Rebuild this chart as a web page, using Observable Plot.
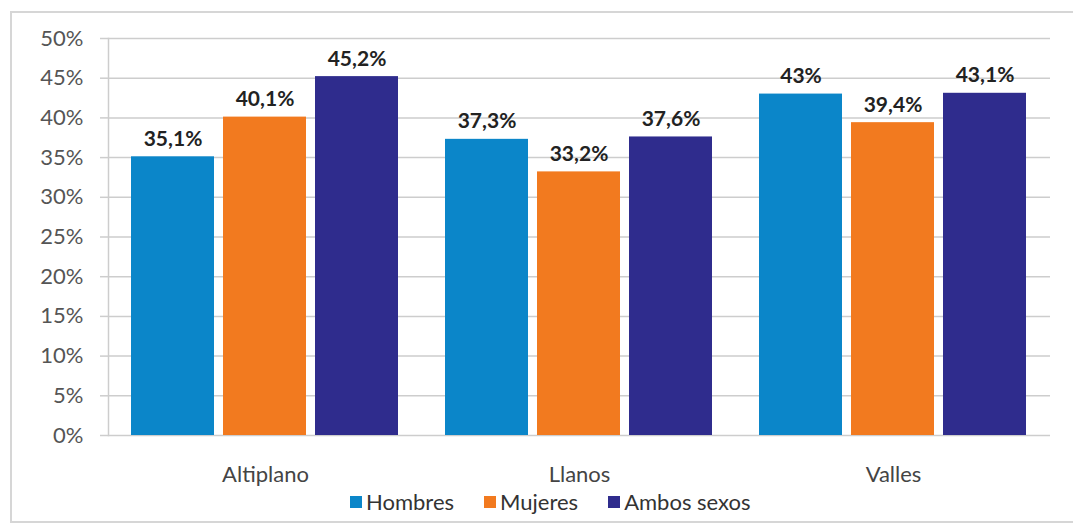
<!DOCTYPE html>
<html>
<head>
<meta charset="utf-8">
<script src="https://cdn.jsdelivr.net/npm/d3@7"></script>
<script src="https://cdn.jsdelivr.net/npm/@observablehq/plot@0.6"></script>
<style>
  html, body { margin: 0; padding: 0; background: #fff; }
  #wrap { position: relative; width: 1073px; height: 526px; overflow: hidden; font-family: Lato, sans-serif; }
  #border { position: absolute; left: 10px; top: 11px; width: 1090px; height: 508px; border: 2px solid #d6d6d6; pointer-events: none; }
  #legend { position: absolute; left: 350px; top: 488px; height: 28px; display: flex; align-items: center; font-size: 22px; color: #333; line-height: 28px; }
  #legend .item { display: flex; align-items: center; margin-right: 30px; }
  #legend .sw { width: 12px; height: 12px; margin-right: 4px; }
</style>
</head>
<body>
<div id="wrap"><div id="border"></div><div id="chart"></div><div id="legend"></div></div>
<script>
const categories = ["Altiplano", "Llanos", "Valles"];
const series = ["Hombres", "Mujeres", "Ambos sexos"];
const hombres = [35.1, 37.3, 43];
const mujeres = [40.1, 33.2, 39.4];
const ambos = [45.2, 37.6, 43.1];
const yTicks = [0, 5, 10, 15, 20, 25, 30, 35, 40, 45, 50];
const colors = ["#0b86c9", "#f27a1f", "#2f2c8d"];

const seriesValues = [hombres, mujeres, ambos];
const data = categories.flatMap((c, i) => series.map((s, j) => ({category: c, series: s, value: seriesValues[j][i]})));
const fmt = v => String(v).replace(".", ",") + "%";

const plot = Plot.plot({
  width: 1073,
  height: 488,
  marginLeft: 108,
  marginRight: 23,
  marginTop: 38,
  marginBottom: 53,
  style: {fontFamily: "Lato, sans-serif", background: "transparent"},
  fx: {domain: categories, padding: 0, label: null},
  x: {domain: series, paddingInner: 0.097, paddingOuter: 0.237, axis: null},
  y: {domain: [0, 50], label: null},
  color: {domain: series, range: colors},
  marks: [
    Plot.gridY(yTicks, {stroke: "#cdcdcd", strokeOpacity: 1, strokeWidth: 1.5}),
    Plot.frame({anchor: "left", facetAnchor: "left", stroke: "#cdcdcd", strokeWidth: 1.5}),
    Plot.axisY(yTicks, {tickSize: 8, tickPadding: 17, stroke: "#cdcdcd", strokeWidth: 1.5, fill: "#555", fontSize: 22, tickFormat: d => d + "%", label: null}),
    Plot.axisFx({anchor: "bottom", tickSize: 0, tickPadding: 31, fontSize: 22, fill: "#444", label: null}),
    Plot.barY(data, {fx: "category", x: "series", y: "value", fill: "series"}),
    Plot.text(data, {fx: "category", x: "series", y: "value", text: d => fmt(d.value), lineAnchor: "bottom", dy: -11, fontWeight: "bold", fontSize: 21, fill: "#222"})
  ]
});
document.getElementById("chart").appendChild(plot);

const color = plot.scale("color");
const legend = document.getElementById("legend");
color.domain.forEach((s, i) => {
  const item = document.createElement("div");
  item.className = "item";
  const sw = document.createElement("div");
  sw.className = "sw";
  sw.style.background = color.range[i];
  const t = document.createElement("span");
  t.textContent = s;
  item.appendChild(sw);
  item.appendChild(t);
  legend.appendChild(item);
});
</script>
</body>
</html>
